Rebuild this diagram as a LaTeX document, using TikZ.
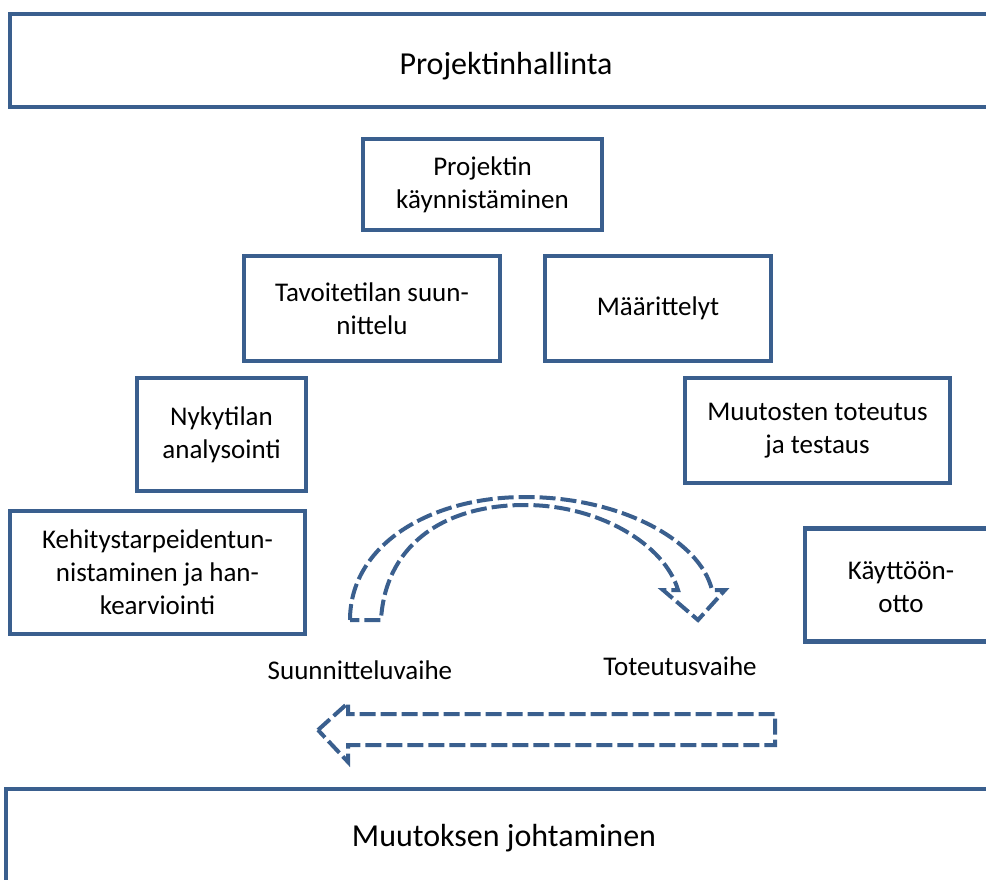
\documentclass[tikz,border=0pt]{standalone}
\usepackage{fontspec}
\setmainfont{Carlito}
\definecolor{boxblue}{HTML}{3A5F8E}
\begin{document}
\begin{tikzpicture}[x=1pt,y=-1pt,
  box/.style={draw=boxblue,line width=4.5pt,fill=white,align=center,inner sep=0pt,font=\fontsize{27}{33}\selectfont},
  bigbox/.style={draw=boxblue,line width=4.5pt,fill=white,inner sep=0pt},
  bigtext/.style={font=\fontsize{32}{38}\selectfont,inner sep=0pt},
  dasharrow/.style={draw=boxblue,line width=4pt,dash pattern=on 16pt off 5pt,line join=miter},
  lbl/.style={font=\fontsize{27}{33}\selectfont,inner sep=0pt}]
\useasboundingbox (0,0) rectangle (986,879);
\clip (0,0) rectangle (986,879);
\node[bigbox,minimum width=990pt,minimum height=93pt] (ph) at (505,60.5) {};
\node[bigtext] (pht) at (506,66) {Projektinhallinta};
\node[bigbox,minimum width=1000pt,minimum height=110pt] (mj) at (506,844) {};
\node[bigtext] (mjt) at (504,838) {Muutoksen johtaminen};
\node[box,minimum width=239pt,minimum height=91pt] (pk) at (482.5,184.5) {Projektin\\käynnistäminen};
\node[box,minimum width=256pt,minimum height=105pt] (ts) at (372,308.5) {Tavoitetilan suun-\\nittelu};
\node[box,minimum width=226pt,minimum height=105pt] (ma) at (658,308.5) {Määrittelyt};
\node[box,minimum width=169pt,minimum height=113pt] (na) at (221.5,434.5) {Nykytilan\\analysointi};
\node[box,minimum width=265pt,minimum height=105pt] (mt) at (817.5,430.5) {Muutosten toteutus\\ja testaus};
\node[box,minimum width=295pt,minimum height=123pt] (kt) at (157.5,572.5) {Kehitystarpeidentun-\\nistaminen ja han-\\kearviointi};
\node[box,minimum width=200pt,minimum height=113pt] (ko) at (905,585) {};
\node[font=\fontsize{27}{33}\selectfont,align=center,inner sep=0pt] (kot) at (901,587) {Käyttöön-\\otto};
\node[lbl] (sv) at (360,670) {Suunnitteluvaihe};
\node[lbl] (tv) at (680,666) {Toteutusvaihe};
% curved arrow
\draw[dasharrow] (350,620) .. controls (350,545) and (430,497) .. (525,497)
  .. controls (620,497) and (700,540) .. (712,590)
  -- (725,590) -- (698,620) -- (663,590) -- (678,590)
  .. controls (665,545) and (600,505) .. (525,505)
  .. controls (440,505) and (385,548) .. (381,620) -- cycle;
% straight arrow
\draw[dasharrow] (318,730) -- (348,703) -- (348,714) -- (775,714) -- (775,745) -- (348,745) -- (348,762) -- cycle;
\end{tikzpicture}
\end{document}
